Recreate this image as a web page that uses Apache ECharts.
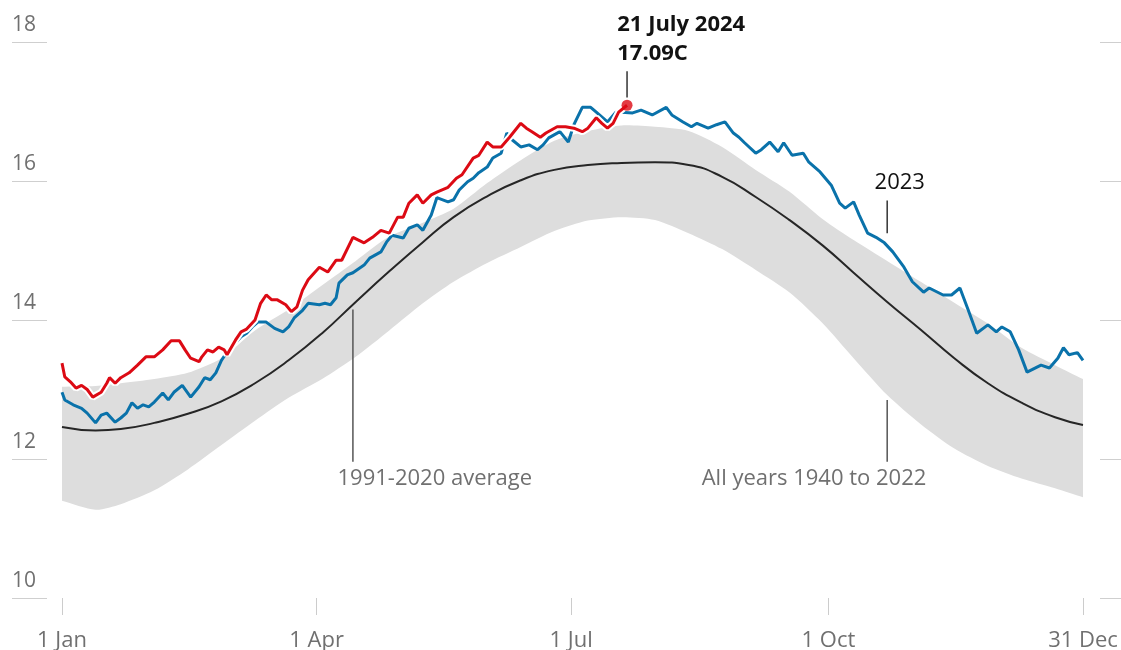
<!DOCTYPE html>
<html>
<head>
<meta charset="utf-8">
<script src="https://cdn.jsdelivr.net/npm/echarts@6/dist/echarts.min.js"></script>
<style>
html, body { margin: 0; padding: 0; background: #fff; }
#chart { width: 1121px; height: 650px; }
</style>
</head>
<body>
<div id="chart"></div>
<script>
// x = day of year (0 = 1 Jan 2024), y = daily global surface air temperature, C
var bandDays = [0, 12, 21, 33, 45, 57, 69, 81, 93, 105, 117, 129, 140, 152, 164, 176, 188, 200, 212, 224, 236, 248, 260, 272, 283, 295, 307, 319, 331, 343, 355, 365];
var bandLow  = [11.40, 11.27, 11.35, 11.55, 11.85, 12.20, 12.55, 12.88, 13.15, 13.47, 13.85, 14.24, 14.55, 14.82, 15.05, 15.28, 15.43, 15.48, 15.44, 15.25, 15.02, 14.72, 14.40, 13.95, 13.45, 12.92, 12.50, 12.15, 11.90, 11.72, 11.58, 11.45];
var bandHigh = [13.04, 13.05, 13.09, 13.15, 13.24, 13.45, 13.85, 14.15, 14.50, 14.85, 15.20, 15.40, 15.60, 15.97, 16.30, 16.58, 16.72, 16.80, 16.78, 16.72, 16.49, 16.16, 15.85, 15.45, 15.15, 14.85, 14.55, 14.25, 13.95, 13.60, 13.35, 13.15];

var avgDays  = [0, 12, 21, 33, 45, 57, 69, 81, 93, 105, 117, 129, 140, 152, 164, 176, 188, 200, 212, 224, 236, 248, 260, 272, 283, 295, 307, 319, 331, 343, 355, 365];
var avgTemps = [12.46, 12.41, 12.43, 12.52, 12.65, 12.83, 13.09, 13.42, 13.81, 14.26, 14.70, 15.12, 15.48, 15.78, 16.01, 16.16, 16.23, 16.26, 16.27, 16.23, 16.06, 15.77, 15.44, 15.07, 14.68, 14.26, 13.86, 13.45, 13.09, 12.81, 12.60, 12.49];

var days2023 = [0, 1, 4, 7, 9, 12, 14, 16, 19, 21, 23, 25, 27, 29, 31, 33, 36, 38, 40, 43, 46, 49, 51, 53, 55, 57, 59, 62, 64, 66, 68, 70, 73, 76, 79, 81, 83, 86, 88, 92, 94, 96, 98, 99, 102, 104, 108, 110, 114, 116, 118, 122, 124, 127, 129, 132, 134, 138, 140, 142, 145, 147, 149, 152, 154, 157, 159, 161, 164, 167, 170, 172, 174, 178, 181, 183, 186, 189, 191, 195, 198, 200, 204, 207, 211, 216, 218, 222, 225, 227, 231, 234, 237, 240, 242, 244, 248, 250, 253, 256, 258, 261, 265, 267, 271, 275, 278, 280, 283, 285, 288, 291, 294, 297, 301, 304, 308, 310, 315, 318, 321, 324, 327, 331, 334, 336, 339, 342, 345, 350, 353, 356, 358, 360, 363, 365];
var temps2023 = [12.96, 12.85, 12.78, 12.73, 12.66, 12.52, 12.63, 12.66, 12.53, 12.59, 12.66, 12.81, 12.73, 12.78, 12.75, 12.82, 12.95, 12.85, 12.96, 13.06, 12.89, 13.04, 13.17, 13.14, 13.24, 13.42, 13.54, 13.67, 13.76, 13.81, 13.90, 13.97, 13.97, 13.88, 13.83, 13.90, 14.03, 14.14, 14.24, 14.22, 14.24, 14.22, 14.32, 14.53, 14.65, 14.68, 14.79, 14.89, 14.98, 15.12, 15.22, 15.18, 15.32, 15.37, 15.29, 15.51, 15.76, 15.70, 15.73, 15.87, 15.99, 16.04, 16.12, 16.20, 16.33, 16.40, 16.69, 16.59, 16.49, 16.52, 16.45, 16.52, 16.62, 16.71, 16.56, 16.81, 17.06, 17.06, 16.99, 16.85, 16.99, 16.99, 16.98, 17.02, 16.95, 17.06, 16.95, 16.85, 16.78, 16.83, 16.76, 16.81, 16.85, 16.69, 16.63, 16.55, 16.40, 16.45, 16.56, 16.42, 16.55, 16.37, 16.40, 16.27, 16.13, 15.94, 15.68, 15.61, 15.70, 15.51, 15.25, 15.19, 15.11, 14.98, 14.76, 14.55, 14.40, 14.46, 14.36, 14.36, 14.46, 14.14, 13.81, 13.93, 13.83, 13.90, 13.83, 13.57, 13.25, 13.35, 13.31, 13.45, 13.60, 13.50, 13.53, 13.42];

var days2024 = [0, 1, 3, 5, 7, 9, 11, 14, 16, 17, 19, 21, 24, 27, 30, 33, 36, 39, 42, 44, 46, 49, 50, 52, 54, 56, 58, 59, 62, 64, 66, 69, 71, 73, 75, 77, 80, 82, 84, 86, 88, 92, 95, 98, 100, 104, 108, 111, 114, 117, 120, 122, 124, 127, 129, 132, 134, 138, 141, 143, 147, 149, 152, 154, 157, 160, 164, 166, 168, 171, 173, 177, 180, 183, 186, 188, 191, 193, 195, 197, 199, 202];
var temps2024 = [13.38, 13.18, 13.11, 13.02, 13.06, 13.00, 12.89, 12.96, 13.09, 13.17, 13.09, 13.17, 13.24, 13.35, 13.47, 13.47, 13.57, 13.70, 13.70, 13.57, 13.45, 13.40, 13.47, 13.57, 13.54, 13.61, 13.57, 13.50, 13.71, 13.83, 13.87, 14.00, 14.24, 14.36, 14.29, 14.29, 14.22, 14.12, 14.19, 14.43, 14.58, 14.76, 14.69, 14.86, 14.86, 15.19, 15.11, 15.19, 15.29, 15.25, 15.48, 15.48, 15.68, 15.80, 15.68, 15.80, 15.84, 15.91, 16.04, 16.09, 16.33, 16.37, 16.56, 16.49, 16.49, 16.63, 16.83, 16.76, 16.71, 16.63, 16.69, 16.78, 16.78, 16.76, 16.71, 16.76, 16.91, 16.83, 16.76, 16.83, 16.99, 17.09];

var recordDay = 202;
var recordTemp = 17.09;

var xTickDays = [0, 91, 182, 274, 365];
var xTickLabels = ['1 Jan', '1 Apr', '1 Jul', '1 Oct', '31 Dec'];

function zip(xs, ys) {
    return xs.map(function (x, i) { return [x, ys[i]]; });
}

var font = '"Open Sans", "Noto Sans", sans-serif';
var chart = echarts.init(document.getElementById('chart'));

// the 1940-2022 spread, drawn as one polygon between the two envelopes
// (end points pushed twice so the smoothing keeps the corners square)
function renderBand(params, api) {
    var n = bandDays.length;
    var pts = [];
    pts.push(api.coord([bandDays[0], bandHigh[0]]));
    for (var i = 0; i < n; i++) pts.push(api.coord([bandDays[i], bandHigh[i]]));
    pts.push(api.coord([bandDays[n - 1], bandHigh[n - 1]]));
    pts.push(api.coord([bandDays[n - 1], bandLow[n - 1]]));
    for (var j = n - 1; j >= 0; j--) pts.push(api.coord([bandDays[j], bandLow[j]]));
    pts.push(api.coord([bandDays[0], bandLow[0]]));
    return {
        type: 'polygon',
        shape: { points: pts, smooth: 0.25 },
        style: { fill: '#dddddd' },
        silent: true
    };
}

var option = {
    animation: false,
    grid: { left: 12, right: 0, top: 42, bottom: 52, outerBoundsMode: 'none', containLabel: false },
    xAxis: {
        type: 'value',
        min: -17.874,
        max: 378.585,
        splitLine: { show: false },
        axisLine: { show: false },
        axisTick: {
            show: true,
            customValues: xTickDays,
            length: 17,
            lineStyle: { color: '#cccccc', width: 1 }
        },
        axisLabel: {
            customValues: xTickDays,
            formatter: function (v) {
                var i = xTickDays.indexOf(v);
                return i >= 0 ? xTickLabels[i] : '';
            },
            hideOverlap: false,
            margin: 32,
            fontSize: 22,
            fontFamily: font,
            color: '#707070'
        }
    },
    yAxis: {
        type: 'value',
        min: 10,
        max: 18,
        interval: 2,
        axisLine: { show: false },
        axisTick: { show: false },
        splitLine: {
            show: true,
            lineStyle: { color: '#cfcfcf', width: 1, type: [35, 1053] }
        },
        axisLabel: {
            inside: true,
            margin: 0,
            verticalAlign: 'bottom',
            padding: [0, 0, 6, 0],
            fontSize: 21,
            fontFamily: font,
            color: '#707070'
        }
    },
    series: [
        {
            name: 'All years 1940 to 2022',
            type: 'custom',
            renderItem: renderBand,
            data: [0],
            clip: true,
            z: 1
        },
        {
            name: '1991-2020 average',
            type: 'line',
            smooth: true,
            symbol: 'none',
            lineStyle: { color: '#262626', width: 2 },
            data: zip(avgDays, avgTemps),
            z: 2
        },
        {
            name: '2023',
            type: 'line',
            symbol: 'none',
            lineStyle: { color: '#0a72aa', width: 3 },
            data: zip(days2023, temps2023),
            z: 3
        },
        {
            name: '2024-halo',
            type: 'line',
            symbol: 'none',
            silent: true,
            lineStyle: { color: '#ffffff', width: 7 },
            data: zip(days2024, temps2024),
            z: 4
        },
        {
            name: '2024',
            type: 'line',
            symbol: 'none',
            lineStyle: { color: '#dc0a14', width: 3 },
            data: zip(days2024, temps2024),
            z: 5
        },
        {
            name: 'record',
            type: 'scatter',
            symbolSize: 11,
            itemStyle: { color: '#dc0a14' },
            data: [[recordDay, recordTemp]],
            z: 6
        }
    ]
};
chart.setOption(option);

// annotations placed in data units, converted through the grid
function px(d) { return chart.convertToPixel({ gridIndex: 0 }, d); }
function vline(day, y1, y2, color) {
    var a = px([day, y1]), b = px([day, y2]);
    return { type: 'line', shape: { x1: a[0], y1: a[1], x2: b[0], y2: b[1] },
             style: { stroke: color, lineWidth: 1.5 }, z: 10 };
}
function label(day, y, str, opts) {
    var p = px([day, y]);
    return { type: 'text', x: p[0], y: p[1], z: 10,
             style: { text: str, fontSize: 22, fontFamily: font,
                      fontWeight: opts.bold ? 'bold' : 'normal',
                      fill: opts.color, align: opts.align || 'left', verticalAlign: 'middle' } };
}

chart.setOption({
    graphic: [
        vline(recordDay, 17.58, 17.2, '#333333'),
        label(198.5, 18.245, '21 July 2024', { bold: true, color: '#121212' }),
        label(198.5, 17.83, '17.09C', { bold: true, color: '#121212' }),
        vline(295, 15.72, 15.25, '#333333'),
        label(290.5, 15.97, '2023', { color: '#121212' }),
        vline(104, 14.15, 11.96, '#555555'),
        label(98.5, 11.71, '1991-2020 average', { color: '#707070' }),
        vline(295, 12.85, 11.96, '#555555'),
        label(309, 11.71, 'All years 1940 to 2022', { color: '#707070', align: 'right' })
    ]
});
</script>
</body>
</html>
